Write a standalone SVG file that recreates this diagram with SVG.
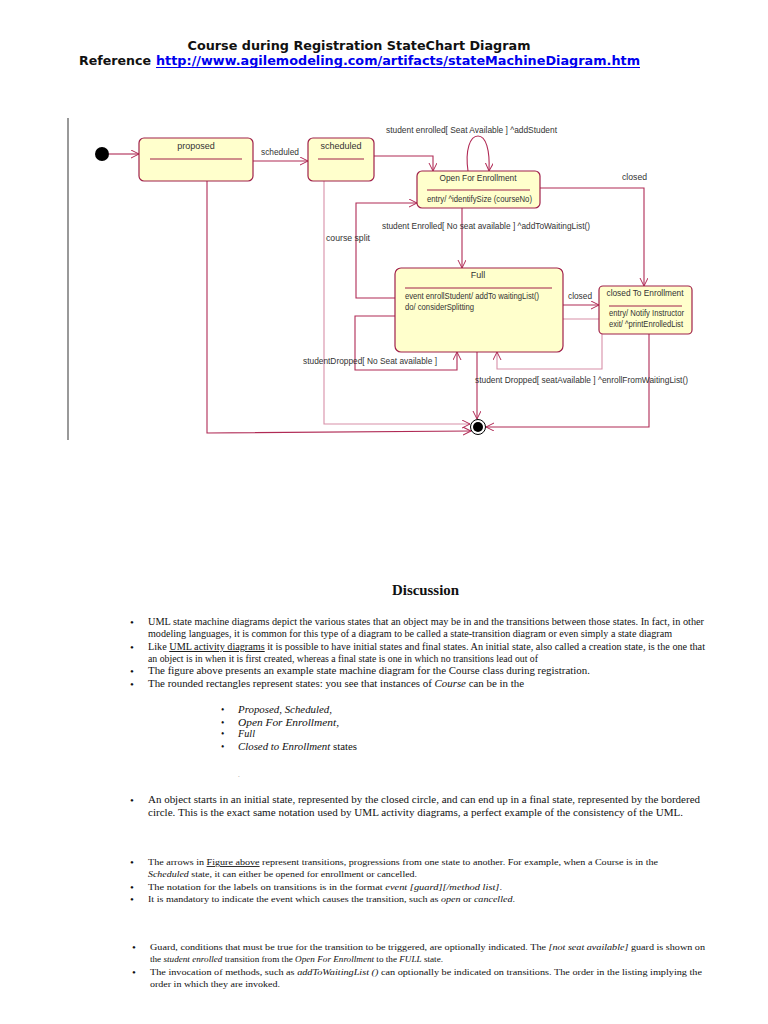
<svg xmlns="http://www.w3.org/2000/svg" width="768" height="1024" viewBox="0 0 768 1024">
<style>
.st{fill:#ffffcc;stroke:#a0204a;stroke-width:1.2}
.dv{stroke:#a0204a;stroke-width:1}
.e{fill:none;stroke:#b02a55;stroke-width:1.1}
.el{fill:none;stroke:#d890a8;stroke-width:1.1}
.lb{font-family:"Liberation Sans",Arial,sans-serif;font-size:9px;fill:#333}
.tx{font-family:"Liberation Serif","Times New Roman",serif;font-size:9.5px;fill:#111}
.sm{font-family:"Liberation Serif","Times New Roman",serif;font-size:8.5px;fill:#111}
.sb{font-family:"Liberation Serif","Times New Roman",serif;font-size:10.5px;fill:#111}
.b{font-size:11px}
.bs{font-size:9.5px}
.i{font-style:italic}
.u{text-decoration:underline}
</style>
<defs>
<marker id="a" markerWidth="10" markerHeight="10" refX="8" refY="4" orient="auto" markerUnits="userSpaceOnUse">
<path d="M0,0 L8,4 L0,8" fill="none" stroke="#b02a55" stroke-width="1"/>
</marker>
</defs>
<rect width="768" height="1024" fill="#fff"/>
<g id="title">
<text x="359" y="50" text-anchor="middle" font-family="DejaVu Sans,sans-serif" font-weight="bold" font-size="12.5" textLength="343" lengthAdjust="spacingAndGlyphs" fill="#111">Course during Registration StateChart Diagram</text>
<text x="79" y="65" font-family="DejaVu Sans,sans-serif" font-weight="bold" font-size="12.5" textLength="72" lengthAdjust="spacingAndGlyphs" fill="#111">Reference</text>
<text x="156" y="65" font-family="DejaVu Sans,sans-serif" font-weight="bold" font-size="12.5" textLength="484" lengthAdjust="spacingAndGlyphs" fill="#0000ee">http://www.agilemodeling.com/artifacts/stateMachineDiagram.htm</text>
<line x1="156" y1="67.5" x2="640" y2="67.5" stroke="#0000ee" stroke-width="1"/>
</g>
<line x1="68" y1="118" x2="68" y2="440" stroke="#999" stroke-width="2"/>
<g id="connectors">
<path class="e" d="M109,154 L139,154" marker-end="url(#a)"/>
<path class="e" d="M253,161 L308,161" marker-end="url(#a)"/>
<path class="e" d="M374,156 L433,156 L433,171" marker-end="url(#a)"/>
<path class="e" d="M468,171 C465,150 470,136 478,136 C486,136 490,150 489,171" marker-end="url(#a)"/>
<path class="e" d="M540,188 L644,188 L644,286" marker-end="url(#a)"/>
<path class="e" d="M462,208 L462,268" marker-end="url(#a)"/>
<path class="e" d="M395,298 L356,298 L356,203 L417,203" marker-end="url(#a)"/>
<path class="e" d="M563,305 L599,305" marker-end="url(#a)"/>
<path class="el" d="M563,319 L602,319 L602,369 L497,369 L497,352" marker-end="url(#a)"/>
<path class="e" d="M395,316 L355,316 L355,370 L457,370 L457,352" marker-end="url(#a)"/>
<path class="e" d="M477,352 L477,419" marker-end="url(#a)"/>
<path class="el" d="M324,181 L324,424 L470,424" marker-end="url(#a)"/>
<path class="e" d="M207,181 L207,433 L471,431" marker-end="url(#a)"/>
<path class="e" d="M649,334 L649,427 L486,427" marker-end="url(#a)"/>
</g>
<g id="initial"><circle cx="102" cy="154" r="7" fill="#000"/></g>
<g id="final"><circle cx="478" cy="427" r="7.5" fill="#fff" stroke="#000" stroke-width="1"/><circle cx="478" cy="427" r="5" fill="#000"/></g>
<g id="proposed">
<rect class="st" x="139" y="138" width="114" height="43" rx="5"/>
<line class="dv" x1="150" y1="159" x2="242" y2="159"/>
<text class="lb" x="196" y="149" text-anchor="middle">proposed</text>
</g>
<g id="scheduled">
<rect class="st" x="308" y="138" width="66" height="43" rx="5"/>
<line class="dv" x1="318" y1="159" x2="364" y2="159"/>
<text class="lb" x="341" y="149" text-anchor="middle">scheduled</text>
</g>
<g id="open">
<rect class="st" x="417" y="171" width="123" height="37" rx="5"/>
<line class="dv" x1="427" y1="190" x2="530" y2="190"/>
<text class="lb" x="478" y="181" text-anchor="middle" textLength="77" lengthAdjust="spacingAndGlyphs">Open For Enrollment</text>
<text class="lb" x="427" y="202" font-size="8" textLength="105" lengthAdjust="spacingAndGlyphs">entry/ ^identifySize (courseNo)</text>
</g>
<g id="full">
<rect class="st" x="395" y="268" width="168" height="84" rx="6"/>
<line class="dv" x1="405" y1="288" x2="552" y2="288"/>
<text class="lb" x="478" y="278" text-anchor="middle">Full</text>
<text class="lb" x="405" y="299" font-size="8" textLength="134" lengthAdjust="spacingAndGlyphs">event enrollStudent/ addTo waitingList()</text>
<text class="lb" x="405" y="310" textLength="69" lengthAdjust="spacingAndGlyphs">do/ considerSplitting</text>
</g>
<g id="closedTo">
<rect class="st" x="599" y="286" width="93" height="48" rx="4"/>
<line class="dv" x1="609" y1="306" x2="682" y2="306"/>
<text class="lb" x="645" y="296" text-anchor="middle" textLength="77" lengthAdjust="spacingAndGlyphs">closed To Enrollment</text>
<text class="lb" x="609" y="316" font-size="8" textLength="75" lengthAdjust="spacingAndGlyphs">entry/ Notify Instructor</text>
<text class="lb" x="609" y="327" font-size="8" textLength="74" lengthAdjust="spacingAndGlyphs">exit/ ^printEnrolledList</text>
</g>
<g id="labels">
<text class="lb" x="261" y="155" textLength="38" lengthAdjust="spacingAndGlyphs">scheduled</text>
<text class="lb" x="386" y="133" textLength="171" lengthAdjust="spacingAndGlyphs">student enrolled[ Seat Available ] ^addStudent</text>
<text class="lb" x="622" y="180" textLength="25" lengthAdjust="spacingAndGlyphs">closed</text>
<text class="lb" x="382" y="229" textLength="208" lengthAdjust="spacingAndGlyphs">student Enrolled[ No seat available ] ^addToWaitingList()</text>
<text class="lb" x="326" y="241" textLength="44" lengthAdjust="spacingAndGlyphs">course split</text>
<text class="lb" x="568" y="299" textLength="24" lengthAdjust="spacingAndGlyphs">closed</text>
<text class="lb" x="303" y="364" textLength="134" lengthAdjust="spacingAndGlyphs">studentDropped[ No Seat available ]</text>
<text class="lb" x="475" y="383" textLength="213" lengthAdjust="spacingAndGlyphs">student Dropped[ seatAvailable ] ^enrollFromWaitingList()</text>
</g>
<g id="discussion">
<text x="392" y="595" font-family="Liberation Serif,serif" font-weight="bold" font-size="14" textLength="67" lengthAdjust="spacingAndGlyphs" fill="#111">Discussion</text>
<g class="tx">
<text class="b" x="130" y="626">•</text><text x="148" y="625" textLength="556" lengthAdjust="spacingAndGlyphs">UML state machine diagrams depict the various states that an object may be in and the transitions between those states. In fact, in other</text>
<text x="148" y="637" textLength="524" lengthAdjust="spacingAndGlyphs">modeling languages, it is common for this type of a diagram to be called a state-transition diagram or even simply a state diagram</text>
<text class="b" x="130" y="651">•</text><text x="148" y="650" textLength="557" lengthAdjust="spacingAndGlyphs">Like <tspan class="u">UML activity diagrams</tspan> it is possible to have initial states and final states. An initial state, also called a creation state, is the one that</text>
<text x="148" y="662" textLength="390" lengthAdjust="spacingAndGlyphs">an object is in when it is first created, whereas a final state is one in which no transitions lead out of</text>
<text class="b" x="130" y="675">•</text><text x="148" y="674" textLength="442" lengthAdjust="spacingAndGlyphs">The figure above presents an example state machine diagram for the Course class during registration.</text>
<text class="b" x="130" y="688">•</text><text x="148" y="687" textLength="376" lengthAdjust="spacingAndGlyphs">The rounded rectangles represent states: you see that instances of <tspan class="i">Course</tspan> can be in the</text>
</g>
<g class="sb">
<text class="bs" x="221" y="713">•</text><text x="238" y="713" class="i" textLength="94" lengthAdjust="spacingAndGlyphs">Proposed, Scheduled,</text>
<text class="bs" x="221" y="726">•</text><text x="238" y="726" class="i" textLength="101" lengthAdjust="spacingAndGlyphs">Open For Enrollment,</text>
<text class="bs" x="221" y="737">•</text><text x="238" y="737" class="i" textLength="17" lengthAdjust="spacingAndGlyphs">Full</text>
<text class="bs" x="221" y="750">•</text><text x="238" y="750" textLength="119" lengthAdjust="spacingAndGlyphs"><tspan class="i">Closed to Enrollment</tspan> states</text>
<text x="238" y="777" fill="#999" font-size="7">.</text>
</g>
<g class="tx">
<text class="b" x="130" y="804">•</text><text x="148" y="803" textLength="552" lengthAdjust="spacingAndGlyphs">An object starts in an initial state, represented by the closed circle, and can end up in a final state, represented by the bordered</text>
<text x="148" y="816" textLength="535" lengthAdjust="spacingAndGlyphs">circle. This is the exact same notation used by UML activity diagrams, a perfect example of the consistency of the UML.</text>
</g>
<g class="sm">
<text class="b" x="130" y="866">•</text><text x="148" y="865" textLength="510" lengthAdjust="spacingAndGlyphs">The arrows in <tspan class="u">Figure above</tspan>  represent transitions, progressions from one state to another. For example, when a Course is in the</text>
<text x="148" y="877" textLength="269" lengthAdjust="spacingAndGlyphs"><tspan class="i">Scheduled</tspan> state, it can either be opened for enrollment or cancelled.</text>
<text class="b" x="130" y="891">•</text><text x="148" y="890" textLength="354" lengthAdjust="spacingAndGlyphs">The notation for the labels on transitions is in the format <tspan class="i">event [guard][/method list]</tspan>.</text>
<text class="b" x="130" y="903">•</text><text x="148" y="902" textLength="367" lengthAdjust="spacingAndGlyphs">It is mandatory to indicate the event which causes the transition, such as <tspan class="i">open</tspan> or <tspan class="i">cancelled</tspan>.</text>
<text class="b" x="132" y="951">•</text><text x="150" y="950" textLength="555" lengthAdjust="spacingAndGlyphs">Guard, conditions that must be true for the transition to be triggered, are optionally indicated. The <tspan class="i">[not seat available]</tspan> guard is shown on</text>
<text x="150" y="962" textLength="293" lengthAdjust="spacingAndGlyphs">the <tspan class="i">student enrolled</tspan> transition from the <tspan class="i">Open For Enrollment</tspan> to the <tspan class="i">FULL</tspan> state.</text>
<text class="b" x="132" y="976">•</text><text x="150" y="975" textLength="552" lengthAdjust="spacingAndGlyphs">The invocation of methods, such as <tspan class="i">addToWaitingList ()</tspan> can optionally be indicated on transitions. The order in the listing implying the</text>
<text x="150" y="987" textLength="130" lengthAdjust="spacingAndGlyphs">order in which they are invoked.</text>
</g>
</g>
</svg>
